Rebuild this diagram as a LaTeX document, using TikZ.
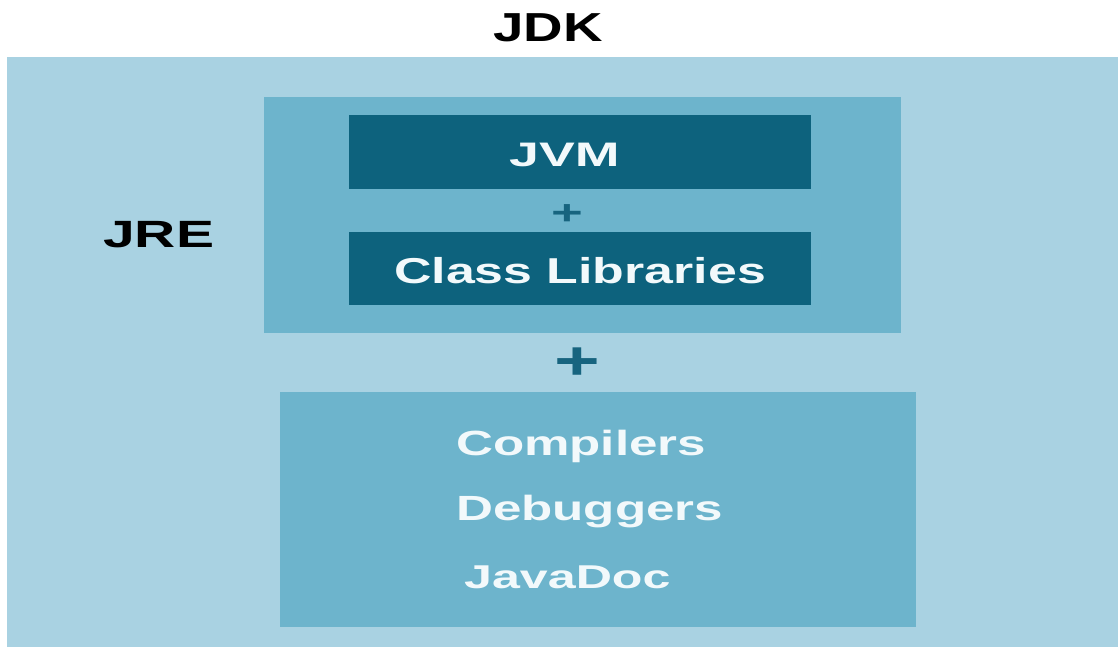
\documentclass[tikz,border=0pt]{standalone}
\usepackage{fontspec}
\setmainfont{Liberation Sans}
\definecolor{jdkbg}{HTML}{A9D2E2}
\definecolor{jrebg}{HTML}{6DB4CC}
\definecolor{darkbox}{HTML}{0D627D}
\definecolor{plusc}{HTML}{17647F}
\definecolor{wtext}{HTML}{F2F9FB}
\tikzset{
  box/.style={inner sep=0pt, outer sep=0pt, draw=none},
  title/.style={anchor=base west, inner sep=0pt, text=black},
  boxtext/.style={anchor=base west, inner sep=0pt, text=wtext},
  plussign/.style={inner sep=0pt, text=plusc},
}
\begin{document}
\begin{tikzpicture}[x=1pt,y=-1pt]
\useasboundingbox (0,0) rectangle (1118,647);
% boxes
\node[box, fill=jdkbg, minimum width=1111pt, minimum height=590pt] (jdk) at (562.5,352) {};
\node[box, fill=jrebg, minimum width=637pt, minimum height=236pt] (jre) at (582.5,215) {};
\node[box, fill=darkbox, minimum width=462pt, minimum height=74pt] (jvm) at (580,152) {};
\node[box, fill=darkbox, minimum width=462pt, minimum height=73pt] (cl) at (580,268.5) {};
\node[box, fill=jrebg, minimum width=636pt, minimum height=235pt] (tools) at (598,509.5) {};
% titles
\node[title, font=\fontsize{40.5}{45}\selectfont\bfseries] (jdkt) at (493,42) {\scalebox{1.35}[1]{JDK}};
\node[title, font=\fontsize{38}{42}\selectfont\bfseries] (jret) at (103,247) {\scalebox{1.5}[1]{JRE}};
% box texts
\node[boxtext, font=\fontsize{34}{40}\selectfont\bfseries] (jvmt) at (509,167) {\scalebox{1.58}[1]{JVM}};
\node[boxtext, font=\fontsize{36}{40}\selectfont\bfseries] (clt) at (394,283) {\scalebox{1.44}[1]{Class Libraries}};
\node[boxtext, font=\fontsize{35}{40}\selectfont\bfseries] (comp) at (456,455) {\scalebox{1.46}[1]{Compilers}};
\node[boxtext, font=\fontsize{35}{40}\selectfont\bfseries] (debu) at (456,520) {\scalebox{1.46}[1]{Debuggers}};
\node[boxtext, font=\fontsize{33}{40}\selectfont\bfseries] (jdoc) at (464,588) {\scalebox{1.52}[1]{JavaDoc}};
% plus signs
\node[plussign, font=\fontsize{34}{40}\selectfont\bfseries] (p1) at (567,215) {\scalebox{1.6}[1]{+}};
\node[plussign, font=\fontsize{54}{60}\selectfont\bfseries] (p2) at (577,364) {\scalebox{1.45}[1]{+}};
\end{tikzpicture}
\end{document}
